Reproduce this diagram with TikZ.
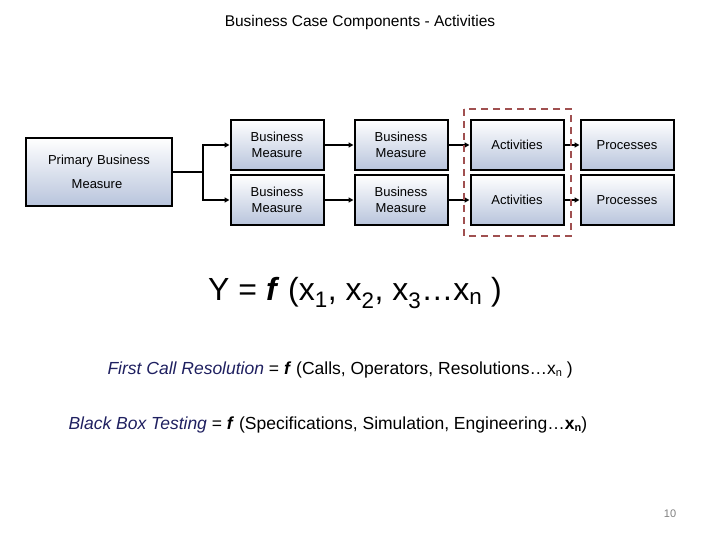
\documentclass[tikz,border=0pt]{standalone}
\usepackage{fontspec}
\setmainfont{Liberation Sans}
\usetikzlibrary{arrows.meta}
\definecolor{navy}{HTML}{1F2060}
\definecolor{boxb}{HTML}{B8C4DC}
\definecolor{dashred}{HTML}{A05050}
\begin{document}
\begin{tikzpicture}[x=1pt,y=-1pt,
 bx/.style={draw=black,line width=2pt,top color=white,bottom color=boxb,minimum width=93pt,minimum height=50pt,align=center,font=\fontsize{13}{16}\selectfont,inner sep=1pt},
 ar/.style={line width=2pt,-{Triangle[length=5pt,width=5pt]}}]
\useasboundingbox (0,0) rectangle (720,540);
\node (t) at (360,22) {\fontsize{15.5}{18}\selectfont Business Case Components - Activities};
\node[bx,minimum width=146pt,minimum height=68pt,text width=140pt] (p) at (99,172) {Primary Business\\[8pt]\hspace*{-4pt}Measure};
\node[bx] (a1) at (277,145) {Business\\Measure};
\node[bx] (a2) at (277,200) {Business\\Measure};
\node[bx] (b1) at (401,145) {Business\\Measure};
\node[bx] (b2) at (401,200) {Business\\Measure};
\node[bx] (c1) at (517,145) {Activities};
\node[bx] (c2) at (517,200) {Activities};
\node[bx] (d1) at (627,145) {Processes};
\node[bx] (d2) at (627,200) {Processes};
\coordinate (j) at (203,172);
\draw[line width=2pt] (p.east) -- (j);
\draw[ar] (j) |- (a1.west);
\draw[ar] (j) |- (a2.west);
\draw[ar] (a1) -- (b1); \draw[ar] (a2) -- (b2);
\draw[ar] (b1) -- (c1); \draw[ar] (b2) -- (c2);
\draw[ar] (c1) -- (d1); \draw[ar] (c2) -- (d2);
\draw[dashred,line width=2.2pt,dash pattern=on 7pt off 5pt] (464,109) rectangle (571,236);
\node (y) at (355,293) {\fontsize{32}{36}\selectfont Y = \textbf{\textit{f}} (x$_{\mathrm{1}}$, x$_{\mathrm{2}}$, x$_{\mathrm{3}}$\dots x$_{\mathrm{n}}$ )};
\node[anchor=west] (f1) at (104,370) {\fontsize{17.5}{20}\selectfont\textcolor{navy}{\textit{First Call Resolution}} = \textbf{\textit{f}} (Calls, Operators, Resolutions\dots x{\fontsize{11}{11}\selectfont\raisebox{-2pt}{n}} )};
\node[anchor=west] (f2) at (65,425) {\fontsize{17.5}{20}\selectfont\textcolor{navy}{\textit{Black Box Testing}} = \textbf{\textit{f}} (Specifications, Simulation, Engineering\dots \textbf{x{\fontsize{11}{11}\selectfont\raisebox{-2pt}{n}}})};
\node (pg) at (670,514) {\fontsize{11}{12}\selectfont\textcolor{gray}{10}};
\end{tikzpicture}
\end{document}
